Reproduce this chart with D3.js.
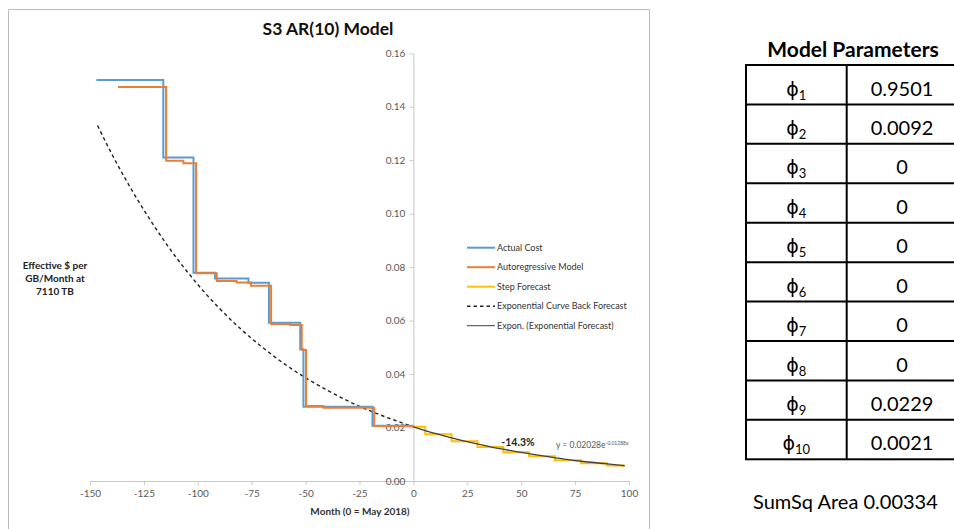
<!DOCTYPE html>
<html>
<head>
<meta charset="utf-8">
<script src="https://cdn.jsdelivr.net/npm/d3@7"></script>
<style>
body { margin: 0; background: #fff; }
svg { display: block; font-family: Lato, "Open Sans", sans-serif; }
</style>
</head>
<body>
<svg id="chart" width="954" height="529"></svg>
<script>
// --- values ---
const actualMonths = [-147, -116, -102, -92, -76.5, -67, -52.5, -51, -19, 0];
const actualValues = [0.150, 0.121, 0.0779, 0.0758, 0.0742, 0.0592, 0.0493, 0.0278, 0.0207, 0.0207];

const arMonths = [-137, -114.7, -106.7, -100.8, -91.2, -82, -75.3, -66, -57.2, -51.8, -49.8, -41.7, -18.2, 0];
const arValues = [0.1474, 0.1198, 0.1189, 0.0777, 0.0748, 0.0743, 0.0730, 0.0587, 0.0584, 0.049, 0.0281, 0.0274, 0.0206, 0.0206];

const stepMonths = [0, 5.5, 17.7, 29.7, 41.7, 53.7, 65.7, 77.8, 89.8, 98];
const stepValues = [0.0203, 0.0175, 0.0149, 0.0127, 0.0108, 0.0093, 0.0078, 0.0066, 0.0058, 0.0058];

const backMonths = [-146.5, -140, -130, -120, -110, -100, -90, -80, -70, -60, -50, -40, -30, -20, -10, 0];
const backValues = [0.1330, 0.1225, 0.1080, 0.0951, 0.0836, 0.0735, 0.0646, 0.0568, 0.0500, 0.0439, 0.0386, 0.0340, 0.0298, 0.0262, 0.0231, 0.0203];

const trendMonths = [0, 10, 20, 30, 40, 50, 60, 70, 80, 90, 98];
const trendValues = [0.0203, 0.0178, 0.0157, 0.0138, 0.0121, 0.0107, 0.0094, 0.0082, 0.0072, 0.0064, 0.0057];

const xTicks = [-150, -125, -100, -75, -50, -25, 0, 25, 50, 75, 100];
const yTicks = [0, 0.02, 0.04, 0.06, 0.08, 0.10, 0.12, 0.14, 0.16];

const legendNames = ["Actual Cost", "Autoregressive Model", "Step Forecast",
                     "Exponential Curve Back Forecast", "Expon. (Exponential Forecast)"];

const paramIndex = ["1", "2", "3", "4", "5", "6", "7", "8", "9", "10"];
const paramValues = ["0.9501", "0.0092", "0", "0", "0", "0", "0", "0", "0.0229", "0.0021"];

const zip = (ms, vs) => ms.map((m, i) => ({ m, v: vs[i] }));

const svg = d3.select("#chart");

const x = d3.scaleLinear().domain([-150, 100]).range([90, 629]);
const y = d3.scaleLinear().domain([0, 0.16]).range([481, 53.3]);

// chart frame
svg.append("path")
    .attr("d", "M8.5,529 V9.5 H649.5 V529")
    .attr("fill", "none")
    .attr("stroke", "#bcbcbc")
    .attr("stroke-width", 1);

// axes
const axisColor = "#c8c8c8";
const tickColor = "#595959";

const xAxis = svg.append("g")
    .attr("transform", `translate(0,${y(0)})`)
    .call(d3.axisBottom(x).tickValues(xTicks).tickSizeInner(4).tickSizeOuter(0).tickPadding(5)
        .tickFormat(d => String(d)));

const yAxis = svg.append("g")
    .attr("transform", `translate(${x(0)},0)`)
    .call(d3.axisLeft(y).tickValues(yTicks).tickSizeInner(4).tickSizeOuter(0).tickPadding(4)
        .tickFormat(d3.format(".2f")));

[xAxis, yAxis].forEach(a => {
    a.select(".domain").attr("stroke", axisColor);
    a.selectAll(".tick line").attr("stroke", axisColor);
    a.selectAll(".tick text")
        .attr("fill", tickColor)
        .style("font-family", "Lato, sans-serif")
        .style("font-size", "10px");
});

// series
const stepLine = d3.line().x(d => x(d.m)).y(d => y(d.v)).curve(d3.curveStepAfter);
const smoothLine = d3.line().x(d => x(d.m)).y(d => y(d.v)).curve(d3.curveMonotoneX);

svg.append("path")
    .datum(zip(backMonths, backValues))
    .attr("d", smoothLine)
    .attr("fill", "none")
    .attr("stroke", "#222")
    .attr("stroke-width", 1.4)
    .attr("stroke-dasharray", "3.5,3");

svg.append("path")
    .datum(zip(actualMonths, actualValues))
    .attr("d", stepLine)
    .attr("fill", "none")
    .attr("stroke", "#5b9bd5")
    .attr("stroke-width", 2);

svg.append("path")
    .datum(zip(arMonths, arValues))
    .attr("d", stepLine)
    .attr("fill", "none")
    .attr("stroke", "#ed7d31")
    .attr("stroke-width", 2);

svg.append("path")
    .datum(zip(stepMonths, stepValues))
    .attr("d", stepLine)
    .attr("fill", "none")
    .attr("stroke", "#ffc000")
    .attr("stroke-width", 2);

svg.append("path")
    .datum(zip(trendMonths, trendValues))
    .attr("d", smoothLine)
    .attr("fill", "none")
    .attr("stroke", "#404040")
    .attr("stroke-width", 1.3);

// legend
const legendStyles = [
    { color: "#5b9bd5", width: 2, dash: null },
    { color: "#ed7d31", width: 2, dash: null },
    { color: "#ffc000", width: 2, dash: null },
    { color: "#222", width: 1.4, dash: "3.5,3" },
    { color: "#404040", width: 1, dash: null }
];

const legend = svg.append("g").attr("class", "legend");
const items = legend.selectAll("g")
    .data(legendNames)
    .enter()
    .append("g")
    .attr("transform", (d, i) => `translate(467,${247.7 + i * 19.5})`);

items.append("line")
    .attr("x1", 0).attr("x2", 28)
    .attr("stroke", (d, i) => legendStyles[i].color)
    .attr("stroke-width", (d, i) => legendStyles[i].width)
    .attr("stroke-dasharray", (d, i) => legendStyles[i].dash);

items.append("text")
    .attr("x", 30)
    .attr("dy", "0.35em")
    .attr("fill", "#333")
    .style("font-size", "9px")
    .text(d => d);

// titles
svg.append("text")
    .attr("x", 328).attr("y", 35)
    .attr("text-anchor", "middle")
    .style("font-size", "17.5px").style("font-weight", "bold")
    .attr("fill", "#111")
    .text("S3 AR(10) Model");

svg.append("text")
    .attr("x", 360).attr("y", 515)
    .attr("text-anchor", "middle")
    .style("font-size", "10px").style("font-weight", "bold")
    .attr("fill", "#333")
    .text("Month (0 = May 2018)");

const yTitle = ["Effective $ per", "GB/Month at", "7110 TB"];
svg.append("text")
    .attr("text-anchor", "middle")
    .style("font-size", "10px").style("font-weight", "bold")
    .attr("fill", "#222")
    .selectAll("tspan")
    .data(yTitle)
    .enter()
    .append("tspan")
    .attr("x", 55)
    .attr("y", (d, i) => 269 + i * 13)
    .text(d => d);

// annotations
svg.append("text")
    .attr("x", 518).attr("y", 446)
    .attr("text-anchor", "middle")
    .style("font-size", "10.5px").style("font-weight", "bold")
    .attr("fill", "#222")
    .text("-14.3%");

const eq = svg.append("text")
    .attr("x", 556).attr("y", 448)
    .style("font-size", "8.5px")
    .attr("fill", "#595959");
eq.append("tspan").text("y = 0.02028e");
eq.append("tspan").attr("dy", -3).style("font-size", "5px").text("-0.01288x");

// parameter table
const tLeft = 746, tMid = 846.7, tRight = 957;
const rowY = d3.scaleBand().domain(paramIndex).range([65, 459.3]);

svg.append("text")
    .attr("x", 853).attr("y", 57)
    .attr("text-anchor", "middle")
    .style("font-size", "21px").style("font-weight", "bold")
    .attr("fill", "#000")
    .text("Model Parameters");

const table = svg.append("g").attr("class", "table");

table.append("rect")
    .attr("x", tLeft).attr("y", rowY.range()[0])
    .attr("width", tRight - tLeft).attr("height", rowY.range()[1] - rowY.range()[0])
    .attr("fill", "none").attr("stroke", "#000").attr("stroke-width", 2);

table.append("line")
    .attr("x1", tMid).attr("x2", tMid)
    .attr("y1", rowY.range()[0]).attr("y2", rowY.range()[1])
    .attr("stroke", "#000").attr("stroke-width", 2);

table.selectAll(".rowline")
    .data(paramIndex.slice(1))
    .enter()
    .append("line")
    .attr("class", "rowline")
    .attr("x1", tLeft).attr("x2", tRight)
    .attr("y1", d => rowY(d)).attr("y2", d => rowY(d))
    .attr("stroke", "#000").attr("stroke-width", 2);

const phi = table.selectAll(".phi")
    .data(paramIndex)
    .enter()
    .append("text")
    .attr("class", "phi")
    .attr("x", (tLeft + tMid) / 2)
    .attr("y", d => rowY(d) + 30.5)
    .attr("text-anchor", "middle")
    .attr("fill", "#000");
phi.append("tspan")
    .style("font-family", "'DejaVu Sans', 'Noto Sans', sans-serif")
    .style("font-size", "19px")
    .text("\u03D5");
phi.append("tspan")
    .attr("dy", 4)
    .style("font-size", "13px")
    .text(d => d);

table.selectAll(".pval")
    .data(paramValues)
    .enter()
    .append("text")
    .attr("class", "pval")
    .attr("x", 902)
    .attr("y", (d, i) => rowY(paramIndex[i]) + 30.5)
    .attr("text-anchor", "middle")
    .style("font-size", "20px")
    .attr("fill", "#000")
    .text(d => d);

svg.append("text")
    .attr("x", 753).attr("y", 509)
    .style("font-size", "20px")
    .attr("fill", "#000")
    .text("SumSq Area 0.00334");
</script>
</body>
</html>
